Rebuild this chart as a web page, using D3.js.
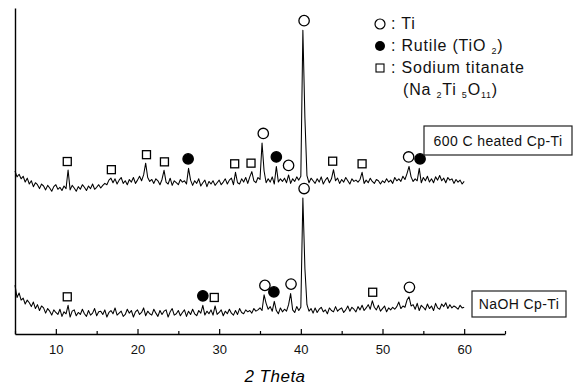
<!DOCTYPE html>
<html>
<head>
<meta charset="utf-8">
<script src="https://cdnjs.cloudflare.com/ajax/libs/d3/7.8.5/d3.min.js"></script>
<style>
  body { margin: 0; background: #fff; }
  svg { display: block; font-family: "Liberation Sans", Arial, sans-serif; }
</style>
</head>
<body>
<svg id="chart"></svg>
<script>
// 2 theta grid: 5 to 60 deg, 0.25 deg step
const thetaStart = 5;
const thetaStep = 0.25;

// NaOH Cp-Ti, raw counts, 4 values per degree
const naohCounts = [
  150, 112, 126, 104, 110, 92, 104, 96,  84, 98, 78, 90,   72, 86, 80, 64,   78, 70, 58, 74,
  66, 60, 76, 54,   68, 62, 88, 52,   70, 74, 56, 66,   60, 76, 62, 54,   72, 58, 64, 78,
  56, 68, 70, 60,   74, 52, 66, 72,   62, 80, 58, 64,   70, 54, 60, 76,   64, 72, 52, 68,
  74, 60, 66, 80,   56, 70, 62, 58,   76, 64, 54, 72,   60, 70, 74, 52,   68, 78, 58, 62,
  72, 56, 66, 74,   54, 70, 60, 76,   62, 56, 72, 64,   88, 58, 70, 62,   74, 58, 86, 60,
  66, 74, 56, 70,   62, 76, 64, 58,   72, 60, 78, 66,   62, 74, 68, 72,   64, 78, 70, 74,
  80, 72, 120, 94,  76, 84, 70, 100,  72, 62, 80, 68,   76, 70, 90, 124,  74, 66, 84, 72,
  82, 417, 200, 90, 70, 78, 64, 80,   66, 76, 82, 68,   74, 62, 80, 72,   68, 84, 70, 76,
  80, 66, 74, 86,   70, 82, 76, 68,   84, 74, 88, 72,   80, 90, 76, 102,  82, 74, 88, 70,
  78, 86, 68, 80,   74, 82, 76, 84,   98, 78, 86, 82,   104, 114, 86, 90, 76, 94, 72, 88,
  82, 74, 92, 78,   86, 72, 94, 80,   76, 92, 84, 96,   78, 90, 80, 86,   82, 76, 88, 80,
  82
];

// 600 C heated Cp-Ti, raw counts, 4 values per degree
const heatedCounts = [
  100, 82, 90, 76,  84, 66, 78, 60,   70, 52, 64, 58,   46, 60, 54, 42,   56, 48, 38, 52,
  58, 44, 50, 40,   54, 46, 103, 42,  56, 48, 38, 52,   44, 58, 50, 40,   54, 46, 60, 44,
  50, 58, 48, 56,   62, 58, 72, 78,   64, 76, 60, 72,   80, 62, 70, 58,   74, 66, 80, 62,
  72, 84, 70, 88,   124, 80, 68, 74,  62, 76, 70, 58,   74, 102, 66, 60,  78, 56, 70, 64,
  58, 74, 66, 70,   60, 108, 72, 56,  70, 62, 76, 54,   64, 72, 52, 68,   60, 70, 56, 64,
  72, 58, 66, 76,   60, 72, 78, 58,   96, 64, 60, 76,   66, 80, 62, 82,   98, 70, 64, 80,
  74, 186, 100, 64, 76, 66, 82, 60,   114, 66, 76, 68,  78, 64, 88, 62,   76, 68, 82, 72,
  84, 532, 262, 86, 64, 78, 70, 62,   76, 66, 82, 60,   72, 80, 64, 76,   104, 70, 78, 62,
  74, 66, 80, 70,   60, 76, 68, 72,   66, 74, 96, 62,   72, 64, 78, 68,   62, 74, 70, 60,
  70, 64, 76, 66,   72, 62, 80, 70,   76, 68, 84, 74,   92, 114, 82, 68,  76, 70, 108, 64,
  80, 70, 84, 66,   76, 64, 82, 72,   86, 70, 78, 64,   80, 72, 76, 62,   74, 66, 72, 60,
  68
];

// peak assignments (2 theta)
const tiHeated = [35.4, 38.5, 40.4, 53.2];
const rutileHeated = [26.2, 37.0, 54.6];
const titanateHeated = [11.4, 16.8, 21.1, 23.3, 31.9, 33.9, 43.9, 47.5];
const tiNaoh = [35.6, 38.8, 40.4, 53.3];
const rutileNaoh = [28.0, 36.7];
const titanateNaoh = [11.4, 29.4, 48.8];

const majorTicks = [10, 20, 30, 40, 50, 60];
const minorTicks = [5, 15, 25, 35, 45, 55, 65];

const width = 579, height = 387;
const heatedOffset = 400;

const svg = d3.select('#chart').attr('width', width).attr('height', height);

const x = d3.scaleLinear().domain([5, 65]).range([15, 505]);
const y = d3.scaleLinear().domain([0, 1000]).range([334, 8]);

const toPoints = (counts, offset) =>
  counts.map((c, i) => ({ t: thetaStart + i * thetaStep, v: c + offset }));

const naoh = toPoints(naohCounts, 0);
const heated = toPoints(heatedCounts, heatedOffset);

const line = d3.line().x(d => x(d.t)).y(d => y(d.v));

[heated, naoh].forEach(pts => {
  svg.append('path')
    .datum(pts)
    .attr('d', line)
    .attr('fill', 'none')
    .attr('stroke', '#000')
    .attr('stroke-width', 1.05)
    .attr('stroke-linejoin', 'round');
});

// marker sits just above the local maximum of the trace
const peakTop = (pts, t) => d3.max(pts.filter(d => Math.abs(d.t - t) <= 0.3), d => d.v);

function drawMarkers(pts, angles, kind) {
  const g = svg.append('g');
  angles.forEach(t => {
    const cx = x(t);
    if (kind === 'square') {
      const cy = y(peakTop(pts, t)) - 8.5;
      g.append('rect')
        .attr('x', cx - 4).attr('y', cy - 4)
        .attr('width', 8).attr('height', 8)
        .attr('fill', '#fff').attr('stroke', '#000').attr('stroke-width', 1.3);
    } else {
      const cy = y(peakTop(pts, t)) - 9.5;
      g.append('circle')
        .attr('cx', cx).attr('cy', cy).attr('r', 5.2)
        .attr('fill', kind === 'filled' ? '#000' : '#fff')
        .attr('stroke', '#000').attr('stroke-width', 1.3);
    }
  });
}

drawMarkers(heated, titanateHeated, 'square');
drawMarkers(heated, rutileHeated, 'filled');
drawMarkers(heated, tiHeated, 'open');
drawMarkers(naoh, titanateNaoh, 'square');
drawMarkers(naoh, rutileNaoh, 'filled');
drawMarkers(naoh, tiNaoh, 'open');

// axes
const xAxis = svg.append('g')
  .attr('transform', `translate(0,${y(0)})`)
  .call(d3.axisBottom(x).tickValues(majorTicks).tickSizeInner(-5).tickSizeOuter(0).tickPadding(11));
xAxis.select('.domain').attr('stroke-width', 1.4);
xAxis.selectAll('.tick line').attr('stroke-width', 1.2);
xAxis.selectAll('.tick text')
  .attr('font-family', '"Liberation Sans", Arial, sans-serif')
  .attr('font-size', 13).attr('fill', '#111');

const xMinor = svg.append('g')
  .attr('transform', `translate(0,${y(0)})`)
  .call(d3.axisBottom(x).tickValues(minorTicks).tickSizeInner(-3).tickSizeOuter(0).tickFormat(''));
xMinor.select('.domain').remove();
xMinor.selectAll('.tick line').attr('stroke-width', 1.2);

const yAxis = svg.append('g')
  .attr('transform', `translate(${x(5)},0)`)
  .call(d3.axisLeft(y).tickValues([]).tickSizeOuter(0));
yAxis.select('.domain').attr('stroke-width', 1.4);

svg.append('text')
  .attr('x', 275).attr('y', 382)
  .attr('text-anchor', 'middle')
  .attr('font-size', 17).attr('font-style', 'italic').attr('letter-spacing', 0.5)
  .text('2 Theta');

// legend
const legend = svg.append('g').attr('font-size', 16).attr('letter-spacing', 0.8).attr('fill', '#111');
legend.append('circle').attr('cx', 380).attr('cy', 24).attr('r', 5)
  .attr('fill', '#fff').attr('stroke', '#000').attr('stroke-width', 1.2);
legend.append('text').attr('x', 391).attr('y', 29).text(': Ti');

legend.append('circle').attr('cx', 380).attr('cy', 46).attr('r', 5).attr('fill', '#000');
const rt = legend.append('text').attr('x', 391).attr('y', 51);
rt.append('tspan').text(': Rutile (TiO ');
rt.append('tspan').attr('font-size', 9).attr('dy', 3).text('2');
rt.append('tspan').attr('dy', -3).text(')');

legend.append('rect').attr('x', 376).attr('y', 64).attr('width', 8).attr('height', 8)
  .attr('fill', '#fff').attr('stroke', '#000').attr('stroke-width', 1.1);
legend.append('text').attr('x', 391).attr('y', 73).text(': Sodium titanate');

const nt = legend.append('text').attr('x', 403).attr('y', 95);
nt.append('tspan').text('(Na ');
nt.append('tspan').attr('font-size', 9).attr('dy', 3).text('2');
nt.append('tspan').attr('dy', -3).text('Ti ');
nt.append('tspan').attr('font-size', 9).attr('dy', 3).text('5');
nt.append('tspan').attr('dy', -3).text('O');
nt.append('tspan').attr('font-size', 9).attr('dy', 3).text('11');
nt.append('tspan').attr('dy', -3).text(')');

// sample labels
function sampleBox(bx, by, bw, bh, label) {
  svg.append('rect').attr('x', bx).attr('y', by).attr('width', bw).attr('height', bh)
    .attr('fill', '#fff').attr('stroke', '#222').attr('stroke-width', 1.2);
  svg.append('text').attr('x', bx + bw / 2).attr('y', by + bh / 2 + 5)
    .attr('text-anchor', 'middle').attr('font-size', 14).attr('letter-spacing', 0.4)
    .attr('fill', '#111')
    .text(label);
}
sampleBox(424, 126, 148, 29, '600 C heated Cp-Ti');
sampleBox(472, 291, 94, 26, 'NaOH Cp-Ti');
</script>
</body>
</html>
